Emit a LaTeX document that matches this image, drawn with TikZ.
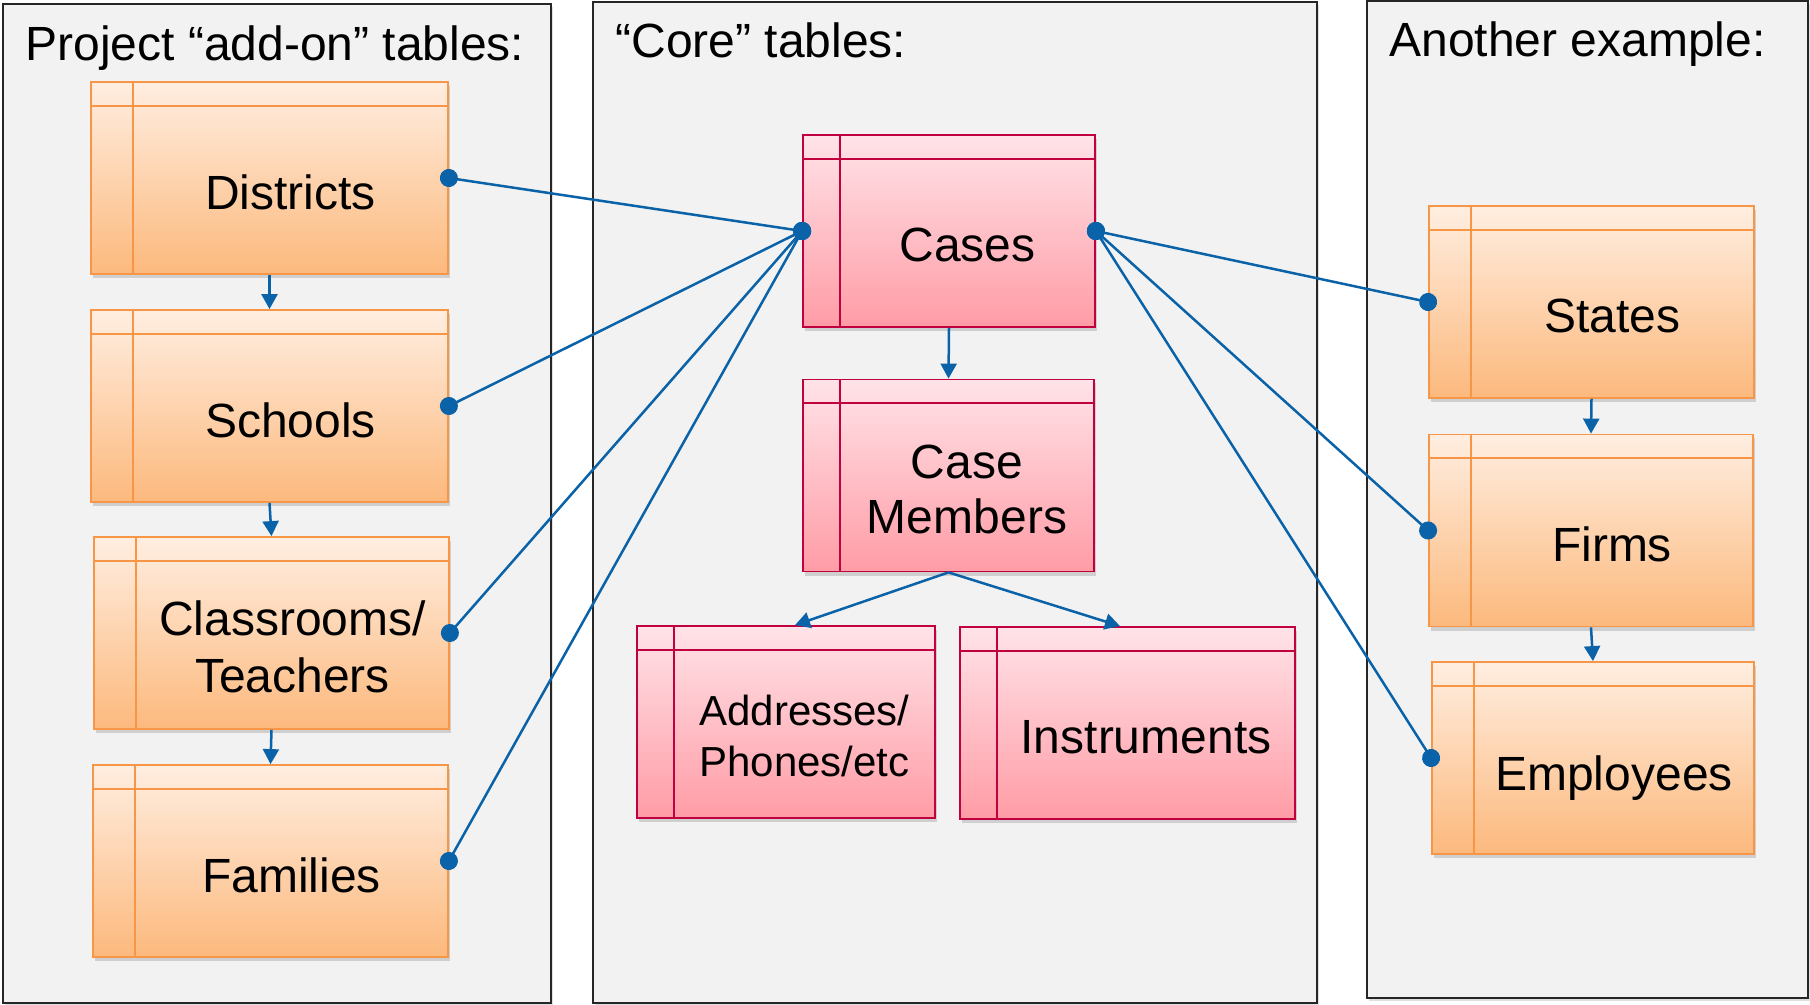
\documentclass[tikz,border=0pt]{standalone}
\usepackage{fontspec}
\setmainfont{Liberation Sans}
\usetikzlibrary{arrows.meta,shadows}

\definecolor{panelgray}{HTML}{F2F2F2}
\definecolor{addonline}{HTML}{F79646}
\definecolor{addontop}{HTML}{FFEEE1}
\definecolor{addonbot}{HTML}{FCB97D}
\definecolor{coreline}{HTML}{C0003F}
\definecolor{coretop}{HTML}{FFE3E8}
\definecolor{corebot}{HTML}{FF9CA6}
\definecolor{linkblue}{HTML}{0A62A8}

\tikzset{
  panel/.style={draw=black!85,line width=1pt,fill=panelgray,
    drop shadow={shadow xshift=1pt,shadow yshift=-1.5pt,opacity=.25}},
  paneltitle/.style={anchor=base west,inner sep=0pt,font=\fontsize{24}{28}\selectfont},
  tablebox/.style n args={4}{draw=#1,line width=.9pt,top color=#2,bottom color=#3,
    minimum height=96pt,
    drop shadow={shadow xshift=1pt,shadow yshift=-2pt,opacity=.3},
    path picture={\draw[#1,line width=1pt]
      ([yshift=-12pt]path picture bounding box.north west) -- ([yshift=-12pt]path picture bounding box.north east)
      ([xshift=#4]path picture bounding box.north west) -- ([xshift=#4]path picture bounding box.south west);}},
  addon/.style={tablebox={addonline}{addontop}{addonbot}{21pt}},
  core/.style={tablebox={coreline}{coretop}{corebot}{18.5pt}},
  addontext/.style={font=\fontsize{24}{28.5}\selectfont,align=center,xshift=10.5pt,yshift=-7pt},
  coretext/.style={font=\fontsize{24}{27.5}\selectfont,align=center,xshift=9.25pt,yshift=-7pt},
  link/.style={draw=linkblue,line width=1.25pt,{Circle[length=9pt]}-{Circle[length=9pt]},
    shorten <=-4.5pt,shorten >=-4.5pt},
  flow/.style={draw=linkblue,line width=1.25pt,-{Triangle[length=7.5pt,width=8pt]}}
}

\begin{document}
\begin{tikzpicture}[x=0.5pt,y=-0.5pt]
  \useasboundingbox (0,0) rectangle (1810,1005);

  % panels
  \node[panel,minimum width=274pt,minimum height=499.5pt] (addonpanel) at (277,503.5) {};
  \node[panel,minimum width=362pt,minimum height=500.5pt] (corepanel) at (955,502.5) {};
  \node[panel,minimum width=220.5pt,minimum height=498.5pt] (otherpanel) at (1587.5,499.5) {};
  \node[paneltitle] (addontitle) at (25,61) {Project “add-on” tables:};
  \node[paneltitle] (coretitle) at (615,58) {“Core” tables:};
  \node[paneltitle] (othertitle) at (1389,57) {Another example:};

  % project tables
  \node[addon,minimum width=178.5pt,label={[addontext]center:Districts}] (dist) at (269.5,178) {};
  \node[addon,minimum width=178.5pt,label={[addontext]center:Schools}] (schools) at (269.5,406) {};
  \node[addon,minimum width=177.5pt,label={[addontext]center:{Classrooms/\\Teachers}}] (class) at (271.5,633) {};
  \node[addon,minimum width=177.5pt,label={[addontext]center:Families}] (fam) at (270.5,861) {};

  % core tables
  \node[core,minimum width=146pt,label={[coretext]center:Cases}] (cases) at (949,231) {};
  \node[core,minimum width=145.5pt,label={[coretext]center:{Case\\Members}}] (members) at (948.5,475.5) {};
  \node[core,minimum width=149pt,label={[coretext,font=\fontsize{21}{25.5}\selectfont]center:{Addresses/\\Phones/etc}}] (addr) at (786,722) {};
  \node[core,minimum width=167.5pt,label={[coretext]center:Instruments}] (instr) at (1127.5,723) {};

  % other example
  \node[addon,minimum width=162.5pt,label={[addontext]center:States}] (states) at (1591.5,302) {};
  \node[addon,minimum width=162pt,label={[addontext]center:Firms}] (firms) at (1591,530.5) {};
  \node[addon,minimum width=161pt,label={[addontext,yshift=-3pt]center:Employees}] (emp) at (1593,758) {};

  \draw[flow] (dist.south) -- (schools.north);
  \draw[flow] (schools.south) -- (class.north);
  \draw[flow] (class.south) -- (fam.north);
  \draw[flow] (cases.south) -- (members.north);
  \draw[flow] (members.south) -- ([xshift=4.5pt]addr.north);
  \draw[flow] (members.south) -- ([xshift=-3.75pt]instr.north);
  \draw[flow] (states.south) -- (firms.north);
  \draw[flow] (firms.south) -- (emp.north);

  \foreach \t in {dist,schools,class,fam} \draw[link] (\t.east) -- (cases.west);
  \foreach \t in {states,firms,emp} \draw[link] (cases.east) -- (\t.west);
\end{tikzpicture}
\end{document}
